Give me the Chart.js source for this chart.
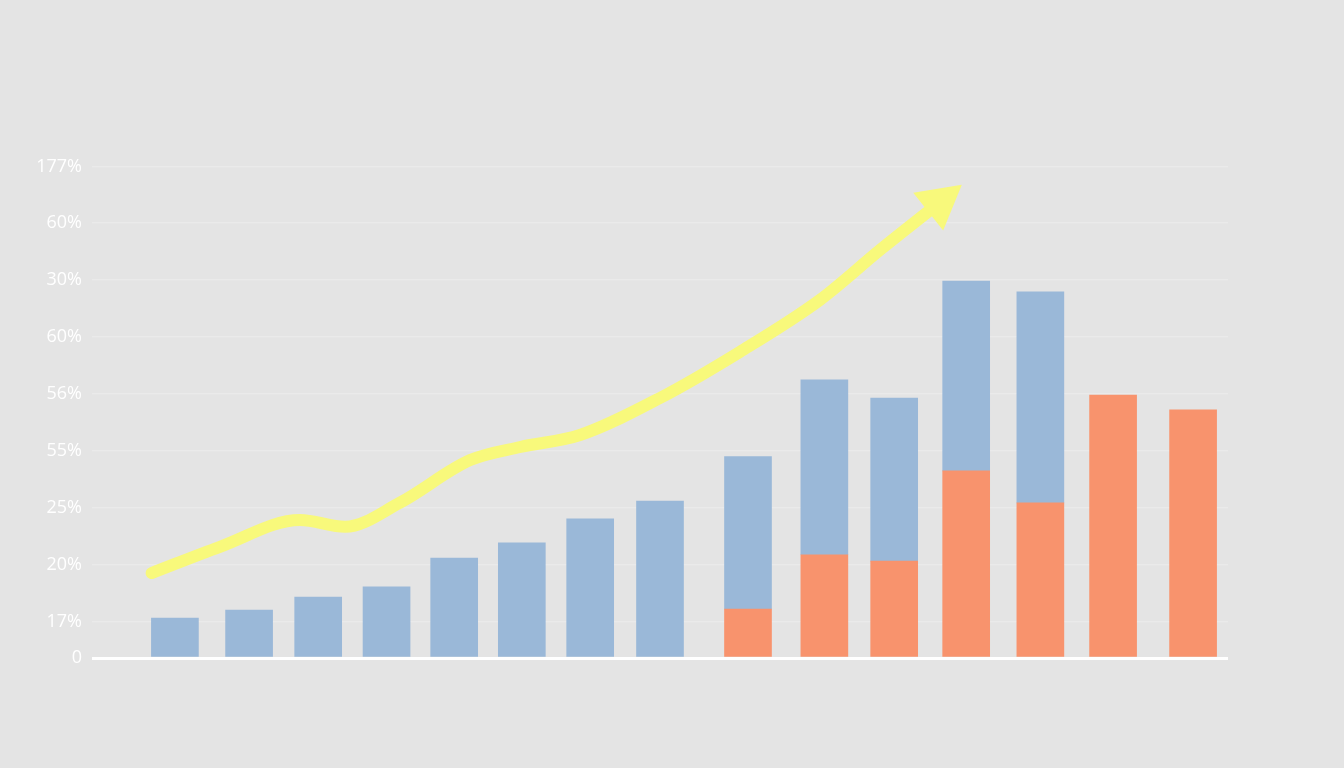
<!DOCTYPE html>
<html>
<head>
  <meta charset="UTF-8" />
  <title>Growth chart</title>
  <script src="https://cdn.jsdelivr.net/npm/chart.js@4.4.0/dist/chart.umd.min.js"></script>
  <style>
    html,body{margin:0;padding:0;background:#e4e4e4;overflow:hidden}
    #chart{display:block}
  </style>
</head>
<body>
  <canvas id="chart" width="1344" height="768"></canvas>
  <script>
    // bar slots (category positions, in slot units)
    const slots=[0,1.02,1.97,2.91,3.84,4.77,5.71,6.67,7.88,8.93,9.89,10.88,11.9,12.9,14.0];
    const orangeVals=[0,0,0,0,0,0,0,0,8.6,18.1,17.0,32.8,27.2,46.1,43.5];
    const blueVals=[7.0,8.4,10.7,12.5,17.5,20.2,24.4,27.5,26.7,30.7,28.6,33.3,37.0,0,0];

    // trend arrow path
    const trendX=[-0.32,0.62,1.72,2.34,3.09,4.06,4.75,5.57,6.67,7.77,8.87,9.70,10.39];
    const trendY=[14.9,19.5,24.2,23.0,27.2,34.7,37.0,39.1,45.6,53.7,62.8,71.6,78.6];

    // y axis ticks as printed
    const tickValues=[0,6.3,16.3,26.3,36.3,46.3,56.3,66.3,76.3,86.1];
    const tickLabels=['0','17%','20%','25%','55%','56%','60%','30%','60%','177%'];

    const yMax=86.1;
    const yellow='#f8f97b';

    const arrowHead={
      id:'arrowHead',
      afterDatasetsDraw(chart){
        const meta=chart.getDatasetMeta(2);
        const pts=meta.data;
        const p=pts[pts.length-1];
        let dx=p.x-(p.cp1x!==undefined?p.cp1x:pts[pts.length-2].x);
        let dy=p.y-(p.cp1y!==undefined?p.cp1y:pts[pts.length-2].y);
        const len=Math.hypot(dx,dy)||1;
        dx/=len;dy/=len;
        const headLen=40,half=24;
        const ctx=chart.ctx;
        ctx.save();
        ctx.fillStyle=yellow;
        ctx.beginPath();
        ctx.moveTo(p.x+dx*headLen,p.y+dy*headLen);
        ctx.lineTo(p.x-dy*half-dx*3,p.y+dx*half-dy*3);
        ctx.lineTo(p.x+dy*half-dx*3,p.y-dx*half-dy*3);
        ctx.closePath();
        ctx.fill();
        ctx.restore();
      }
    };

    const ctx=document.getElementById('chart').getContext('2d');
    new Chart(ctx,{
      type:'bar',
      data:{
        datasets:[
          {label:'orange',data:slots.map((x,i)=>({x,y:orangeVals[i]||null})),backgroundColor:'#f8936d',barThickness:47,grouped:false,stack:'s',order:2},
          {label:'blue',data:slots.map((x,i)=>({x,y:blueVals[i]||null})),backgroundColor:'#9ab8d8',barThickness:47,grouped:false,stack:'s',order:2},
          {type:'line',label:'trend',data:trendX.map((x,i)=>({x,y:trendY[i]})),yAxisID:'y2',borderColor:yellow,borderWidth:12,borderCapStyle:'round',borderJoinStyle:'round',cubicInterpolationMode:'monotone',pointRadius:0,fill:false,order:1}
        ]
      },
      options:{
        responsive:false,
        animation:false,
        layout:{padding:{left:0,top:167,right:116,bottom:110}},
        plugins:{legend:{display:false},tooltip:{enabled:false}},
        scales:{
          x:{type:'linear',min:-1.14,max:14.48,offset:false,display:false},
          y:{
            stacked:true,min:0,max:yMax,
            border:{display:false},
            afterFit(scale){scale.width=92;},
            afterBuildTicks(scale){scale.ticks=tickValues.map(v=>({value:v}));},
            grid:{
              drawTicks:false,
              color:c=>c.tick&&c.tick.value===0?'#ffffff':'#eaeaea',
              lineWidth:c=>c.tick&&c.tick.value===0?3:1.2
            },
            ticks:{
              padding:10,color:'#ffffff',
              font:{family:'"Open Sans"',size:18},
              callback:(v,i)=>tickLabels[i]
            }
          },
          y2:{min:0,max:yMax,display:false}
        }
      },
      plugins:[arrowHead]
    });
  </script>
</body>
</html>
